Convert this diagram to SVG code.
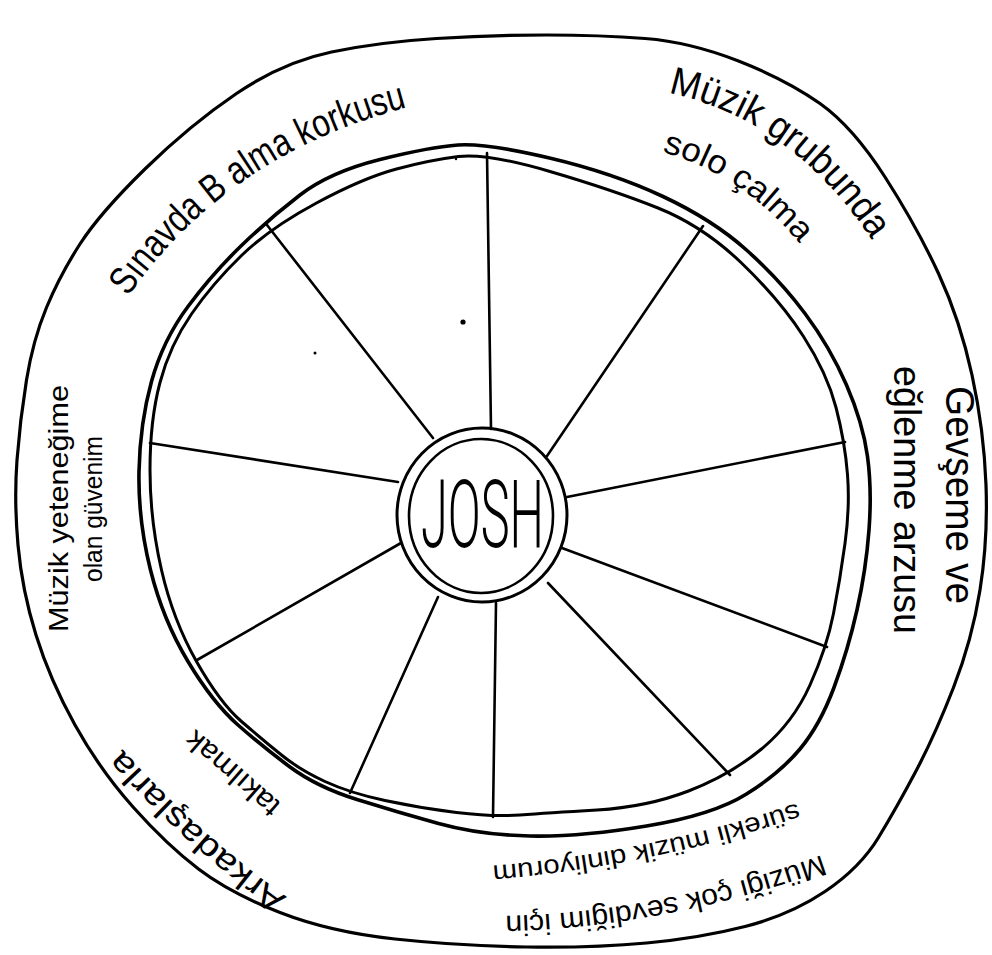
<svg xmlns="http://www.w3.org/2000/svg" width="992" height="955" viewBox="0 0 992 955">
<style>
.ln{fill:none;stroke:#000;stroke-linecap:round;stroke-linejoin:round}
.hand{font-family:"Liberation Sans","DejaVu Sans",sans-serif;fill:#000}
.hub{font-family:Roboto,"Liberation Sans",sans-serif;font-weight:300;fill:#000}
</style>
<defs>
<path id="p1" d="M 128 297 Q 230 150 420 104"/>
<path id="p2a" d="M 668 93 Q 790 118 872 240"/>
<path id="p2b" d="M 662 152 Q 742 174 800 244"/>
<path id="p5a" d="M 287 897 Q 195 832 116 742"/>
<path id="p5b" d="M 282 804 Q 237 764 190 724"/>
<path id="p6a" d="M 797 803 Q 650 853 488 866"/>
<path id="p6b" d="M 822 855 Q 660 913 500 916"/>
</defs>
<rect width="992" height="955" fill="#fff"/>

<g id="outer-circle">
<path class="ln" stroke-width="3.2" d="M 546.5 35 Q 600 35 645 38.5 Q 690 42 738.5 61 Q 787 80 820 103.5 Q 853 127 885 177 Q 917 227 938.5 273.5 Q 960 320 972 375 Q 984 430 986 485 Q 988 540 980 590 Q 972 640 953.5 687.5 Q 935 735 916 771 Q 897 807 878.5 837.5 Q 860 868 825 891.5 Q 790 915 745 926.5 Q 700 938 646.5 943 Q 593 948 526.5 947 Q 460 946 395 939 Q 330 932 280 912.5 Q 230 893 198.5 869 Q 167 845 133.5 807.5 Q 100 770 75 725 Q 50 680 36 635 Q 22 590 18 545 Q 14 500 17 460 Q 20 420 26.5 380 Q 33 340 46.5 307.5 Q 60 275 80 244 Q 100 213 145 169 Q 190 125 236.5 93.5 Q 283 62 331.5 52 Q 380 42 436.5 38.5 Q 493 35 546.5 35 Z"/>
</g>

<g id="wheel-rim">
<path class="ln" stroke-width="3.6" d="M 549.5 158 Q 613 173 663 196.5 Q 713 220 746.5 250 Q 780 280 805 313.5 Q 830 347 846.5 385 Q 863 423 867.5 456.5 Q 872 490 869 530 Q 866 570 857 610 Q 848 650 834 687.5 Q 820 725 800 749 Q 780 773 746.5 794 Q 713 815 646.5 826 Q 580 837 530 836 Q 480 835 438.5 823.5 Q 397 812 357 799.5 Q 317 787 290 767 Q 263 747 238 725 Q 213 703 188 661.5 Q 163 620 150.5 570 Q 138 520 139 471.5 Q 140 423 151.5 381.5 Q 163 340 188 306.5 Q 213 273 241.5 245.5 Q 270 218 300 195 Q 330 172 380 159.5 Q 430 147 458 145 Q 486 143 549.5 158 Z"/>
<path class="ln" stroke-width="3" d="M 550 171.5 Q 613 190 658 208 Q 703 226 741.5 263 Q 780 300 803.5 336.5 Q 827 373 836 407.5 Q 845 442 847.5 474.5 Q 850 507 845 543.5 Q 840 580 833.5 613.5 Q 827 647 810 685 Q 793 723 761.5 749 Q 730 775 688.5 791 Q 647 807 597 810 Q 547 813 520 815 Q 493 817 456.5 812.5 Q 420 808 385 800.5 Q 350 793 325 781.5 Q 300 770 281.5 755 Q 263 740 241.5 721.5 Q 220 703 196.5 661.5 Q 173 620 161.5 570 Q 150 520 150 470 Q 150 420 160 382.5 Q 170 345 191.5 314 Q 213 283 241.5 255.5 Q 270 228 316.5 203 Q 363 178 396.5 169 Q 430 160 458.5 156.5 Q 487 153 550 171.5 Z"/>
</g>

<g id="spokes" class="ln" stroke-width="2.6">
<line x1="487" y1="153" x2="491" y2="429"/>
<line x1="703" y1="226" x2="547" y2="456"/>
<line x1="845" y1="442" x2="567" y2="497"/>
<line x1="827" y1="647" x2="562" y2="548"/>
<line x1="730" y1="775" x2="548" y2="583"/>
<line x1="493" y1="817" x2="496" y2="603"/>
<line x1="350" y1="793" x2="438" y2="597"/>
<line x1="197" y1="660" x2="401" y2="543"/>
<line x1="150" y1="443" x2="398" y2="482"/>
<line x1="267" y1="225" x2="433" y2="438"/>
</g>

<g id="josh">
<ellipse class="ln" stroke-width="3" cx="482" cy="515" rx="85" ry="87" fill="#fff"/>
<ellipse class="ln" stroke-width="2.6" cx="481" cy="516" rx="72" ry="77"/>
<text class="hub" x="421" y="547" font-size="94" textLength="123" lengthAdjust="spacingAndGlyphs">JOSH</text>
</g>

<g id="label-sinav">
<text class="hand" font-size="39"><textPath href="#p1" textLength="345" lengthAdjust="spacingAndGlyphs">Sınavda B alma korkusu</textPath></text>
</g>

<g id="label-solo">
<text class="hand" font-size="39"><textPath href="#p2a" textLength="258" lengthAdjust="spacingAndGlyphs">Müzik grubunda</textPath></text>
<text class="hand" font-size="33"><textPath href="#p2b" textLength="168" lengthAdjust="spacingAndGlyphs">solo çalma</textPath></text>
</g>

<g id="label-gevseme">
<text class="hand" font-size="40" transform="translate(946,386) rotate(90)" textLength="218" lengthAdjust="spacingAndGlyphs">Gevşeme ve</text>
<text class="hand" font-size="38" transform="translate(894,366) rotate(90)" textLength="268" lengthAdjust="spacingAndGlyphs">eğlenme arzusu</text>
</g>

<g id="label-guven">
<text class="hand" font-size="28" transform="translate(68,632) rotate(-90)" textLength="247" lengthAdjust="spacingAndGlyphs">Müzik yeteneğime</text>
<text class="hand" font-size="26" transform="translate(102,582) rotate(-90)" textLength="146" lengthAdjust="spacingAndGlyphs">olan güvenim</text>
</g>

<g id="label-arkadas">
<text class="hand" font-size="33"><textPath href="#p5a" textLength="222" lengthAdjust="spacingAndGlyphs">Arkadaşlarla</textPath></text>
<text class="hand" font-size="29"><textPath href="#p5b" textLength="115" lengthAdjust="spacingAndGlyphs">takılmak</textPath></text>
</g>

<g id="label-muzik">
<text class="hand" font-size="26"><textPath href="#p6a" textLength="312" lengthAdjust="spacingAndGlyphs">sürekli müzik dinliyorum</textPath></text>
<text class="hand" font-size="29"><textPath href="#p6b" textLength="324" lengthAdjust="spacingAndGlyphs">Müziği çok sevdiğim için</textPath></text>
</g>

<g id="dots" fill="#000">
<circle cx="463" cy="322" r="2.6"/>
<circle cx="315" cy="353" r="1.5"/>
<circle cx="456" cy="159" r="1.2"/>
</g>
</svg>
